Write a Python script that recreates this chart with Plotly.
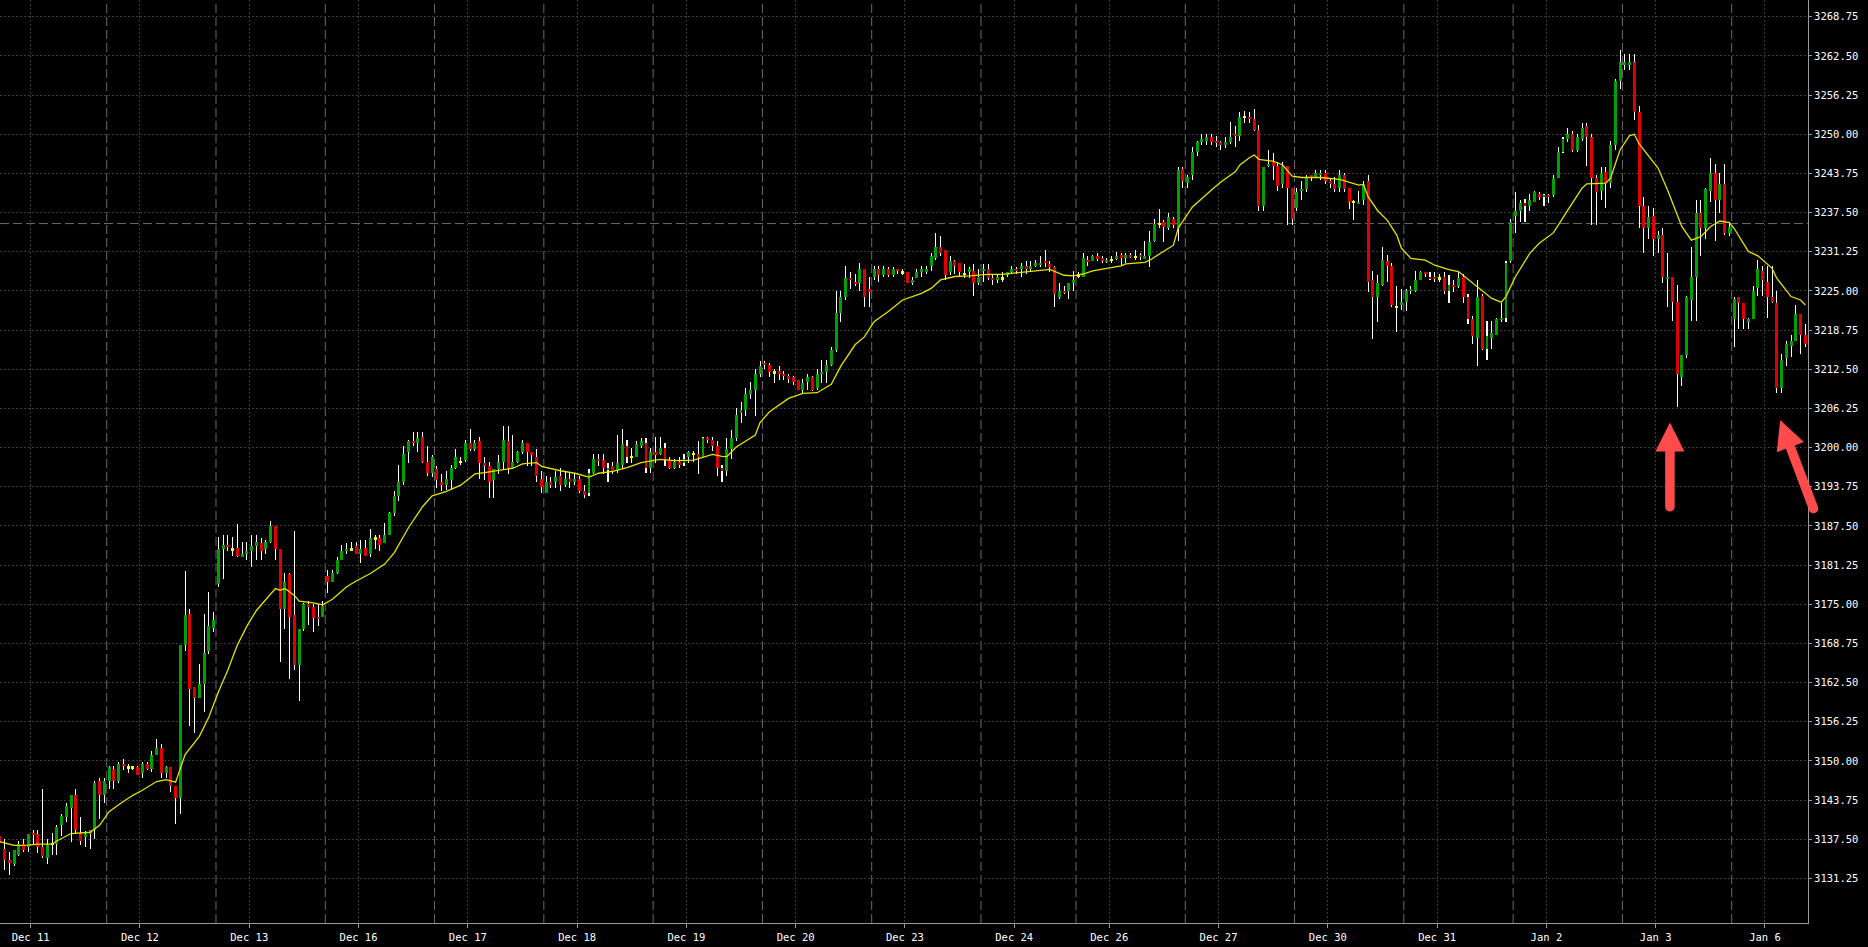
import plotly.graph_objects as go

# ---------------- data (hourly bars) ----------------
day_labels = ["Dec 11", "Dec 12", "Dec 13", "Dec 16", "Dec 17", "Dec 18", "Dec 19", "Dec 20",
              "Dec 23", "Dec 24", "Dec 26", "Dec 27", "Dec 30", "Dec 31", "Jan 2", "Jan 3", "Jan 6"]
day_bars = [23, 23, 23, 23, 23, 23, 23, 23, 23, 20, 23, 23, 23, 23, 23, 23, 16]

opens = [
    3138, 3136, 3134.25, 3133.5, 3135, 3136.75, 3136.25, 3138.5, 3138.25, 3136.25,
    3134.5, 3136.75, 3136.75, 3139.75, 3141, 3142.5, 3144.5, 3138.5, 3138, 3138.25,
    3139, 3146.75, 3144.5, 3146.75, 3148.75, 3146.75, 3149.5, 3149, 3149, 3149,
    3148, 3149.5, 3148.75, 3151, 3152, 3148, 3149, 3146, 3144, 3168.5,
    3173.5, 3161.75, 3160, 3162.25, 3167.5, 3171.25, 3178.25, 3183.75, 3184.5, 3183.75,
    3184, 3182.5, 3183, 3183.5, 3184.25, 3184.75, 3183.75, 3185, 3187.5, 3183.75,
    3174.25, 3179.75, 3173.25, 3165.25, 3171, 3175, 3174.5, 3173, 3173, 3179.5,
    3178.5, 3180, 3182, 3183.5, 3183.75, 3184.25, 3183, 3184, 3183, 3185.5,
    3185.5, 3184.75, 3186, 3189.5, 3192.25, 3194.5, 3199.25, 3201, 3200.75, 3201.75,
    3197.75, 3196, 3196.5, 3194.5, 3194, 3194.75, 3196.75, 3197.75, 3198, 3200.75,
    3199.75, 3201, 3197.5, 3197, 3194.75, 3196.5, 3197.75, 3201, 3196.75, 3197.75,
    3199.25, 3200.75, 3199.25, 3198.5, 3195, 3192.75, 3194.5, 3194.5, 3195.5, 3194,
    3195, 3194.5, 3195, 3193, 3192.75, 3196, 3198.25, 3198, 3196.5, 3197,
    3196.25, 3197.25, 3200.25, 3198.5, 3198.5, 3200.25, 3200.75, 3196.75, 3199.25, 3199,
    3200, 3198, 3196.75, 3197.75, 3197.5, 3198.5, 3199, 3199, 3198.5, 3201.5,
    3201.25, 3200.25, 3196.75, 3196.25, 3199.75, 3201.5, 3205.5, 3206, 3208.5, 3209.25,
    3211.75, 3213.5, 3213.25, 3212, 3212.25, 3211.75, 3211.5, 3211.25, 3210.75, 3209.25,
    3210.5, 3211.25, 3209.5, 3211.75, 3212, 3213.25, 3215.5, 3221.5, 3224, 3227,
    3226.5, 3226.25, 3228.5, 3225.25, 3227.25, 3228.5, 3227.5, 3228.5, 3227.5, 3228.5,
    3228, 3228, 3226.25, 3227, 3228, 3228, 3229, 3230.25, 3232, 3231.5,
    3228, 3229.75, 3229.5, 3227.75, 3228, 3228.25, 3226.25, 3228.25, 3228.5, 3227,
    3226.75, 3227, 3227.5, 3228, 3228.5, 3228.5, 3229, 3228.5, 3229, 3229.25,
    3229.75, 3229.25, 3228.75, 3224, 3225, 3225, 3226.25, 3227.5, 3227.25, 3230,
    3229.75, 3230.5, 3230.25, 3229.75, 3230, 3230.25, 3230.75, 3230.25, 3230.75, 3230.5,
    3230.75, 3230.25, 3230.5, 3233, 3235.75, 3236, 3235, 3236.5, 3235, 3244.5,
    3242.25, 3243.5, 3247.25, 3248.75, 3249, 3249.5, 3249, 3248.75, 3248.25, 3248.75,
    3250, 3249.75, 3252.75, 3252.75, 3252.5, 3250.75, 3238.5, 3245, 3245.5, 3245,
    3242, 3245, 3241.5, 3238.25, 3241, 3241.25, 3243.5, 3243.25, 3243.5, 3243.75,
    3242.5, 3242, 3241.5, 3243.5, 3241.5, 3239.25, 3239, 3239.5, 3242.5, 3226.75,
    3224, 3226, 3229.75, 3229, 3222.5, 3222.75, 3223.25, 3225, 3225, 3226.75,
    3228, 3227.25, 3227.25, 3227, 3227.25, 3225, 3226, 3225.75, 3227.25, 3224,
    3220.5, 3217.5, 3224.25, 3215.75, 3217.5, 3218, 3220.5, 3220.75, 3229.75, 3237,
    3237.75, 3239, 3238.5, 3239.25, 3240.5, 3240, 3240.25, 3240.25, 3243, 3247.25,
    3249.25, 3250, 3247.5, 3249.25, 3251.25, 3249.5, 3243, 3241, 3244, 3242.25,
    3248.25, 3258.5, 3261, 3261, 3261.5, 3253.5, 3238.5, 3235, 3237, 3233.25,
    3234, 3227, 3227.25, 3223.25, 3211.25, 3214.75, 3223.5, 3227.25, 3237.5, 3235,
    3241, 3243.75, 3239.5, 3242, 3234.25, 3220.5, 3224, 3223, 3220, 3220.5,
    3225.5, 3228.25, 3226.5, 3224, 3223, 3209.5, 3214.25, 3216.25, 3217, 3221.25,
    3218,
]

highs = [
    3138.5, 3137.5, 3135.5, 3135.75, 3137.25, 3137.5, 3138.25, 3139, 3139, 3145.5,
    3137.5, 3138.5, 3139.75, 3141.5, 3143.25, 3144.5, 3145.5, 3141, 3138.75, 3139,
    3146.75, 3147.25, 3147.25, 3149.25, 3149.25, 3149.75, 3150.25, 3149.5, 3149.25, 3149.25,
    3149.75, 3149.75, 3151.5, 3153.5, 3152.75, 3149.25, 3149, 3146, 3168.5, 3180.25,
    3174.25, 3161.75, 3165.5, 3173.5, 3177, 3173.75, 3185.75, 3186, 3186, 3185.75,
    3187.75, 3185, 3185, 3186, 3186, 3185.5, 3185.25, 3188.25, 3187.5, 3183.75,
    3180, 3180, 3186.75, 3171, 3175.25, 3175.5, 3175, 3175, 3175.5, 3180.5,
    3180.5, 3182.5, 3184.5, 3184.75, 3185, 3185, 3185.25, 3185.25, 3187, 3186,
    3186, 3188, 3189.75, 3193, 3197.25, 3200.25, 3201.25, 3202.5, 3202.5, 3202.5,
    3200.25, 3198.75, 3197, 3195.75, 3196.25, 3197.25, 3199.75, 3198.5, 3201.25, 3203,
    3201.25, 3201.75, 3198.5, 3197.75, 3196.5, 3198.75, 3203.5, 3203.5, 3202, 3199.5,
    3201.25, 3200.75, 3199.25, 3199.75, 3196.25, 3195.5, 3195.25, 3196.25, 3196.75, 3196.25,
    3196, 3196, 3195.5, 3194, 3196.5, 3199, 3199, 3199, 3197.5, 3197.75,
    3202, 3203, 3201.25, 3200, 3201, 3201.5, 3201.5, 3200, 3201.75, 3201.75,
    3200.75, 3198.5, 3198.25, 3198.5, 3199, 3199.5, 3199.5, 3201, 3201.75, 3201.75,
    3201.75, 3201, 3197.25, 3201.5, 3202.75, 3206.25, 3207.25, 3209.5, 3210.5, 3212.5,
    3213.75, 3213.75, 3213.5, 3212.5, 3213, 3212.25, 3211.75, 3211.5, 3210.75, 3211,
    3211.75, 3211.5, 3212.5, 3214, 3214, 3216, 3225, 3225, 3229, 3228,
    3227.75, 3229.5, 3228.5, 3227.25, 3229, 3229, 3229, 3228.75, 3228.75, 3228.5,
    3228.5, 3228, 3227.25, 3228.5, 3229, 3229, 3231, 3234.25, 3233.75, 3231.5,
    3230.5, 3230, 3229.5, 3229.25, 3228.75, 3229.25, 3228.5, 3229.25, 3229.25, 3227.75,
    3227.75, 3228, 3228, 3229, 3228.75, 3229.5, 3229.75, 3229.75, 3230, 3230.5,
    3231.5, 3229.75, 3229, 3226.25, 3225.75, 3226.25, 3228.25, 3228, 3231, 3230.5,
    3230.75, 3231, 3230.5, 3230.25, 3230.5, 3231.25, 3231, 3231, 3231, 3231.5,
    3231, 3233, 3234.5, 3236.5, 3238, 3236.25, 3237.5, 3236.75, 3244.75, 3244.75,
    3243.5, 3248, 3249, 3250, 3250, 3250, 3249.75, 3249, 3249.5, 3252,
    3251.25, 3253.5, 3253.75, 3253.5, 3254, 3251.5, 3244.75, 3247.5, 3247, 3245.5,
    3245.5, 3245, 3241.5, 3241.5, 3242.5, 3243.5, 3243.5, 3244.25, 3244.25, 3244.25,
    3243, 3243.25, 3244.25, 3243.75, 3241.5, 3239.5, 3241, 3242.5, 3243.5, 3228.25,
    3227.5, 3232, 3230.75, 3229.5, 3225.75, 3225.25, 3225.25, 3225.75, 3228.25, 3228.25,
    3228, 3228, 3228, 3227.75, 3228, 3227.5, 3226.75, 3228, 3227.75, 3224.5,
    3221, 3226.75, 3224.5, 3220.25, 3220.25, 3220.75, 3223, 3229.75, 3236.5, 3240.75,
    3239.5, 3239.75, 3240.5, 3241, 3240.75, 3240.5, 3240.5, 3243.5, 3248, 3249.5,
    3251, 3250.5, 3250, 3251.75, 3251.75, 3250, 3243.5, 3244.75, 3244.75, 3249,
    3258.75, 3263.5, 3262.75, 3262.75, 3262.75, 3254.5, 3240, 3238.5, 3238.25, 3234.5,
    3235, 3231, 3227.25, 3226, 3214.75, 3224.25, 3232, 3239.5, 3239.5, 3241.5,
    3246.25, 3245.25, 3243.75, 3245.25, 3236, 3224, 3224, 3223, 3220.75, 3225.75,
    3230, 3229, 3229, 3229, 3225, 3215, 3217, 3218, 3222.75, 3221.25,
    3219.75,
]

lows = [
    3137, 3132.5, 3131.75, 3133.25, 3134.75, 3135.5, 3135.5, 3136.75, 3135.25, 3134.5,
    3133.5, 3135, 3135, 3138, 3140.25, 3137, 3138.25, 3136.5, 3136.25, 3136,
    3137.5, 3140.75, 3143.25, 3145.5, 3145.5, 3146.5, 3148.5, 3148, 3148.5, 3147.75,
    3147.25, 3148.5, 3148.25, 3151, 3147.25, 3147.25, 3145, 3140, 3141.5, 3167.5,
    3155.5, 3154.5, 3160, 3157.75, 3167, 3170.5, 3177.75, 3179, 3183.5, 3182.75,
    3182.5, 3182.5, 3182, 3181, 3182, 3182, 3183, 3184.75, 3182, 3165.75,
    3171, 3163, 3164.5, 3159.5, 3170.75, 3171.75, 3170.5, 3171.5, 3173, 3176.75,
    3178.5, 3179.75, 3182, 3183, 3183.5, 3183, 3181.5, 3182.75, 3182.5, 3183.75,
    3183.5, 3184.75, 3186, 3189, 3191.5, 3194, 3197.5, 3200.25, 3199.25, 3197.5,
    3195.5, 3195.25, 3193.5, 3193, 3193.25, 3193.25, 3196.5, 3197.25, 3197.75, 3199.5,
    3199.5, 3195, 3194.75, 3192, 3192, 3195.75, 3196.5, 3195.75, 3196.5, 3197.5,
    3199, 3197, 3197, 3194.5, 3192.75, 3192.75, 3193.5, 3193.5, 3193, 3193.75,
    3193.5, 3194, 3192.75, 3192, 3192.25, 3195.75, 3197, 3195.75, 3194.5, 3195.75,
    3196, 3196.5, 3197.5, 3197.5, 3198.5, 3200, 3196, 3196, 3197.5, 3198.75,
    3197, 3196.5, 3196.5, 3196.75, 3197, 3197.5, 3197.75, 3195.75, 3198.5, 3200.75,
    3199.5, 3195.5, 3194.5, 3195.5, 3198.25, 3201, 3204, 3205, 3207.75, 3205,
    3211.25, 3212.5, 3211.25, 3210.25, 3210.75, 3210.75, 3210.25, 3210, 3209.25, 3208.5,
    3209.25, 3209, 3209.25, 3210.25, 3210.25, 3213, 3215.25, 3220, 3223.5, 3225.25,
    3225.75, 3225, 3222.5, 3222.5, 3226.75, 3226.5, 3227.25, 3227.25, 3227.25, 3227.75,
    3227.5, 3226.25, 3226, 3227, 3227.25, 3227.75, 3228.25, 3230, 3230.5, 3226.75,
    3227.5, 3227.75, 3227.25, 3227, 3227, 3224.25, 3226, 3226.5, 3226.75, 3226,
    3226.25, 3226.5, 3227.25, 3227.75, 3227.75, 3227.25, 3227.75, 3228, 3228.75, 3228.75,
    3228.75, 3228, 3222.5, 3223.75, 3224.5, 3223.75, 3225, 3227, 3227.25, 3229,
    3229.75, 3229.75, 3229.5, 3229.5, 3229.5, 3230, 3229, 3229.5, 3230.25, 3230,
    3230, 3230.25, 3228.75, 3232.75, 3235, 3232.75, 3234.75, 3235, 3233, 3241.5,
    3241.5, 3242.75, 3246.5, 3248.25, 3248.25, 3248.25, 3248, 3247.5, 3247.75, 3248.5,
    3248, 3249, 3251.75, 3251.75, 3250.5, 3237.75, 3237.75, 3244.75, 3242.75, 3241,
    3241.5, 3235.5, 3235.5, 3237.75, 3239.5, 3240.75, 3242.5, 3243, 3242.75, 3242,
    3241.5, 3240.75, 3240.75, 3240.75, 3238, 3236.25, 3239, 3238.75, 3224.75, 3217.25,
    3220, 3225.75, 3226.5, 3222.5, 3218.5, 3222, 3221.75, 3224.5, 3224.75, 3226.75,
    3227.25, 3226.75, 3226.5, 3226.5, 3224.5, 3223, 3224.75, 3225.5, 3223, 3219.75,
    3216.5, 3213, 3215.5, 3214, 3215.75, 3218, 3220, 3220, 3229.5, 3234.25,
    3236, 3236, 3237.75, 3239.25, 3239.5, 3238.5, 3239, 3240, 3243, 3247,
    3248.75, 3247.25, 3247.25, 3249, 3245, 3235.5, 3235.5, 3239.5, 3238.25, 3241.5,
    3247.5, 3257.25, 3260.25, 3260.25, 3252.25, 3235, 3231, 3233.25, 3230.5, 3231,
    3226.25, 3222.5, 3220.25, 3206.5, 3209.75, 3214.25, 3220.25, 3220.25, 3230.5, 3233.25,
    3239.25, 3233, 3237.5, 3234, 3233.75, 3216, 3219, 3219, 3219, 3220.5,
    3224.25, 3224.25, 3220.75, 3223, 3208.75, 3208.75, 3213, 3214.5, 3217, 3215,
    3216,
]

closes = [
    3137.25, 3134.25, 3133.75, 3135.75, 3136.75, 3135.75, 3138.25, 3138.25, 3136.25, 3134.75,
    3136.5, 3136.75, 3139.5, 3141.25, 3142.75, 3144.5, 3139, 3137.25, 3138.25, 3139,
    3146.5, 3144.5, 3146.75, 3149, 3146.75, 3149.5, 3149.25, 3149, 3149, 3147.75,
    3149.5, 3148.75, 3151, 3152, 3148, 3149, 3146, 3144, 3168.5, 3173.25,
    3161.5, 3160, 3162.25, 3167.25, 3171.5, 3172.5, 3183.75, 3184.5, 3184.25, 3183.75,
    3182.75, 3183, 3183.5, 3184.25, 3185, 3183.5, 3185, 3187.5, 3183.75, 3174.25,
    3178.5, 3173, 3165.25, 3171, 3175, 3174.5, 3172.75, 3172.75, 3174.75, 3178.5,
    3180, 3182, 3183.5, 3183.75, 3183.75, 3183, 3183.75, 3182.75, 3185.5, 3185.5,
    3184.5, 3186, 3189.5, 3192.25, 3194.5, 3199, 3201, 3200.75, 3201.5, 3197.75,
    3196, 3198.5, 3194.75, 3194, 3195, 3196.75, 3198.5, 3197.75, 3200.75, 3199.75,
    3200.75, 3197.5, 3197, 3194.5, 3196.5, 3197.75, 3201.25, 3196.75, 3197.75, 3199.25,
    3200.75, 3199.25, 3198.75, 3195.5, 3193.75, 3194.5, 3194, 3195.25, 3194, 3195,
    3194.5, 3195, 3193, 3192.5, 3196, 3198.25, 3198, 3196.75, 3196.75, 3196.25,
    3197.5, 3200.5, 3198.5, 3198.5, 3200.5, 3201, 3196.75, 3199.25, 3198.75, 3200,
    3198, 3196.75, 3197.75, 3197.25, 3198.25, 3199.25, 3199, 3198.5, 3201.5, 3201.25,
    3200.25, 3196.75, 3196.25, 3199.75, 3201.5, 3205.25, 3206, 3208.5, 3209.25, 3211.75,
    3213, 3213.25, 3212, 3212, 3211.75, 3211.5, 3211, 3210.5, 3209.25, 3210.25,
    3211.25, 3209.25, 3211.75, 3212, 3213.25, 3215.5, 3221.5, 3224, 3227, 3226.75,
    3226.25, 3228.5, 3224, 3224.75, 3228.5, 3227.5, 3228.5, 3227.5, 3228.5, 3228.25,
    3228, 3226.25, 3226.75, 3228, 3228.5, 3228.5, 3230.5, 3232, 3231, 3227.5,
    3229.75, 3229, 3228, 3227.75, 3228.5, 3226.25, 3227.25, 3228.5, 3227, 3226.75,
    3227.25, 3227, 3228, 3228.5, 3228.25, 3229, 3228.5, 3229, 3229.5, 3229.5,
    3229.5, 3228.75, 3224.5, 3225, 3224.75, 3226.25, 3226.75, 3227.5, 3230.25, 3229.75,
    3230.5, 3230.25, 3229.75, 3230, 3230, 3230.5, 3230.25, 3230.75, 3230.5, 3230.5,
    3230.5, 3230.5, 3232.75, 3235.75, 3235.75, 3235.25, 3236.75, 3235.5, 3244.25, 3242.5,
    3243.25, 3247.25, 3248.75, 3249.25, 3249.5, 3248.75, 3248.75, 3248.25, 3248.75, 3249.5,
    3249.75, 3252.75, 3252.75, 3252.5, 3250.75, 3238.5, 3244.75, 3245.25, 3245, 3241.75,
    3245, 3241.5, 3236.5, 3240.75, 3241.25, 3243.25, 3243.25, 3243.75, 3243.75, 3242.5,
    3242, 3241.25, 3243.5, 3241.25, 3239.25, 3239.25, 3239.25, 3242, 3226.5, 3224,
    3226.25, 3230, 3229, 3222.75, 3222.5, 3223.25, 3225, 3225.25, 3226.75, 3228,
    3227.75, 3227, 3227, 3227, 3225, 3226, 3225.75, 3227, 3224, 3220.5,
    3217.75, 3224, 3215.75, 3217.75, 3218.25, 3220.5, 3220.75, 3229.5, 3236, 3237.75,
    3239, 3238.5, 3239.5, 3240.75, 3240, 3240.25, 3240, 3243, 3247.25, 3249.25,
    3250, 3247.5, 3249.5, 3251, 3249.5, 3243, 3240.75, 3243.75, 3242.25, 3248.25,
    3258.5, 3261.5, 3261.5, 3261.5, 3253.5, 3238.5, 3235, 3236.75, 3233.25, 3234,
    3227.25, 3227.25, 3223.25, 3211.75, 3214.75, 3224, 3227.25, 3237.5, 3235, 3241.25,
    3243.75, 3239.5, 3242, 3234.25, 3235.25, 3223.75, 3223, 3220.5, 3220.5, 3225,
    3228.5, 3226.75, 3224, 3223.25, 3209.5, 3214, 3216.5, 3217, 3221.25, 3218,
    3216.5,
]

# moving average at these bar positions
ma_index = [0, 3, 6, 8, 11, 12, 15, 19, 21, 23, 26, 28, 30, 33, 35, 37, 38, 39, 42, 44,
            46, 48, 50, 52, 54, 56, 58, 59, 60, 62, 63, 66, 68, 70, 73, 75, 78, 81, 83, 86,
            89, 91, 94, 97, 100, 102, 105, 108, 110, 113, 114, 118, 121, 124, 126, 129, 132, 135, 139, 142,
            146, 150, 152, 153, 155, 159, 160, 162, 166, 169, 172, 175, 177, 180, 182, 184, 187, 190, 194, 196,
            198, 201, 204, 208, 211, 215, 218, 221, 224, 226, 228, 230, 236, 237, 241, 242, 247, 248, 251, 255,
            257, 260, 261, 263, 264, 265, 268, 270, 272, 274, 278, 282, 286, 287, 288, 290, 292, 294, 295, 297,
            300, 302, 305, 307, 310, 314, 316, 317, 319, 322, 324, 327, 330, 333, 334, 338, 339, 341, 343, 344,
            345, 349, 351, 354, 356, 358, 360, 362, 364, 365, 368, 370, 373, 374, 377, 379, 380]
ma_values = [3137.1, 3136.5, 3136.55, 3136.7, 3136.7, 3137.2, 3138.4, 3138.6, 3139.7, 3141.9,
             3143.5, 3144.5, 3145.3, 3146.7, 3147.0, 3146.6, 3148.8, 3151.0, 3153.9, 3157.0,
             3161.0, 3164.5, 3168.5, 3171.5, 3174.0, 3175.8, 3177.5, 3177.2, 3177.5, 3176.4,
             3175.5, 3175.2, 3174.9, 3175.8, 3177.8, 3178.7, 3179.9, 3181.4, 3183.2, 3187.2,
             3190.6, 3192.3, 3193.0, 3194.0, 3195.8, 3196.0, 3196.4, 3196.7, 3197.4, 3197.6,
             3197.0, 3196.3, 3195.9, 3195.3, 3195.9, 3196.2, 3196.8, 3197.6, 3198.1, 3197.9,
             3198.0, 3198.9, 3198.6, 3198.55, 3200.1, 3202.0, 3204.0, 3205.7, 3207.85, 3208.65,
             3208.75, 3210.1, 3213.0, 3216.4, 3217.7, 3220.1, 3221.7, 3223.55, 3224.6, 3225.4,
             3226.75, 3227.3, 3227.4, 3227.65, 3227.65, 3227.9, 3228.2, 3228.45, 3227.5, 3227.4,
             3227.7, 3228.2, 3229.0, 3229.3, 3229.55, 3229.9, 3232.3, 3235.0, 3238.4, 3241.1,
             3242.4, 3244.0, 3245.1, 3246.25, 3246.7, 3246.0, 3245.7, 3245.1, 3243.3, 3243.1,
             3243.1, 3242.8, 3241.9, 3242.0, 3240.0, 3237.8, 3236.3, 3233.9, 3231.8, 3230.2,
             3229.9, 3229.1, 3228.4, 3228.1, 3226.2, 3223.8, 3223.2, 3224.1, 3227.3, 3231.0,
             3232.6, 3234.3, 3237.9, 3241.4, 3242.1, 3242.2, 3243.0, 3247.5, 3249.8, 3250.0,
             3248.5, 3244.6, 3241.1, 3235.3, 3233.1, 3233.65, 3235.25, 3236.15, 3235.9, 3235.0,
             3231.3, 3230.6, 3228.6, 3227.0, 3224.1, 3223.55, 3222.75]

price_labels = ["3131.25", "3137.50", "3143.75", "3150.00", "3156.25", "3162.50", "3168.75",
                "3175.00", "3181.25", "3187.50", "3193.75", "3200.00", "3206.25", "3212.50",
                "3218.75", "3225.00", "3231.25", "3237.50", "3243.75", "3250.00", "3256.25",
                "3262.50", "3268.75"]
level_price = 3235.75
arrow_targets = [(351.5, 3204.0), (374.7, 3204.4)]   # (bar, price) the red arrows point at

# ---------------- styling ----------------
W, H = 1868, 947
M_L, M_R, M_T, M_B = 0, 60, 0, 24
X_RANGE = [0.042, 380.56]
Y_RANGE = [3124.12, 3271.43]
BG = "#000000"
GRID = "#3a3a3a"
SEP = "#6a6a6a"
AXIS = "#9a9a9a"
UP, DOWN, DOJI = "#00a000", "#e00000", "#ffff00"
MA_COL = "#e2e200"
ARROW = "#ff4b4b"
FONT = dict(family="DejaVu Sans Mono, monospace", size=10.5, color="#ffffff")

n = len(opens)
idx = list(range(n))

# day positions
starts = []
s = 0
for b in day_bars:
    starts.append(s)
    s += b
label_pos = [st + 6.5 for st in starts]
sep_pos = [st - 0.5 for st in starts[1:]]

# bodies
DOJI_H = 0.3
body_base, body_h, body_col = [], [], []
for o, c in zip(opens, closes):
    if c == o:
        body_base.append(o - DOJI_H / 2)
        body_h.append(DOJI_H)
        body_col.append(DOJI)
    else:
        body_base.append(min(o, c))
        body_h.append(abs(c - o))
        body_col.append(UP if c > o else DOWN)

fig = go.Figure()
# wicks (drawn first, so bodies cover them)
fig.add_trace(go.Bar(
    x=idx, y=[h - l for h, l in zip(highs, lows)], base=lows, width=0.22,
    marker=dict(color="rgba(255,255,255,0.999)", line=dict(width=0)),
    hoverinfo="skip", showlegend=False))
# bodies
fig.add_trace(go.Bar(
    x=idx, y=body_h, base=body_base, width=0.62,
    marker=dict(color=body_col, opacity=0.999, line=dict(width=0)),
    hoverinfo="skip", showlegend=False))
# moving average
fig.add_trace(go.Scatter(
    x=ma_index, y=ma_values, mode="lines", line=dict(color=MA_COL, width=1.3),
    hoverinfo="skip", showlegend=False))

shapes = []
for p in sep_pos:
    shapes.append(dict(type="line", xref="x", yref="paper", x0=p, x1=p, y0=0, y1=1,
                       line=dict(color=SEP, width=1, dash="9px,4px"), layer="below"))
shapes.append(dict(type="line", xref="paper", yref="y", x0=0, x1=1, y0=level_price, y1=level_price,
                   line=dict(color=SEP, width=1, dash="9px,4px"), layer="below"))


def arrow_path(length, dx, dy, head_len=29.0, head_half=14.5, shaft_half=4.75):
    # dx, dy: unit vector from tip towards tail, pixel units with y pointing up
    px, py = -dy, dx
    r = shaft_half

    def P(u, v):
        return f"{u * dx + v * px:.2f},{u * dy + v * py:.2f}"
    k = 4.0 / 3.0 * r
    return (f"M {P(0, 0)} L {P(head_len, head_half)} L {P(head_len, r)} "
            f"L {P(length - r, r)} C {P(length - r + k, r)} {P(length - r + k, -r)} {P(length - r, -r)} "
            f"L {P(head_len, -r)} L {P(head_len, -head_half)} Z")


arrow_dirs = [(0.0, -1.0, 89.0), (35.0 / 99.4, -93.0 / 99.4, 99.4)]
for (bx, by), (dx, dy, ln) in zip(arrow_targets, arrow_dirs):
    xa = (bx - X_RANGE[0]) / (X_RANGE[1] - X_RANGE[0])
    ya = (by - Y_RANGE[0]) / (Y_RANGE[1] - Y_RANGE[0])
    shapes.append(dict(type="path", xref="paper", yref="paper", xsizemode="pixel", ysizemode="pixel",
                       xanchor=xa, yanchor=ya, path=arrow_path(ln, dx, dy),
                       fillcolor=ARROW, line=dict(width=0), layer="above"))

fig.update_layout(
    width=W, height=H, margin=dict(l=M_L, r=M_R, t=M_T, b=M_B, pad=0),
    paper_bgcolor=BG, plot_bgcolor=BG, barmode="overlay", bargap=0,
    showlegend=False, hovermode=False, font=FONT, shapes=shapes,
    xaxis=dict(range=X_RANGE, tickmode="array", tickvals=label_pos, ticktext=day_labels,
               showgrid=True, gridcolor=GRID, griddash="2px,2px", gridwidth=1,
               showline=True, linecolor=AXIS, linewidth=1, ticks="outside", ticklen=4,
               tickcolor=AXIS, tickfont=FONT, zeroline=False, fixedrange=True),
    yaxis=dict(range=Y_RANGE, side="right", tickmode="array",
               tickvals=[float(t) for t in price_labels], ticktext=price_labels,
               showgrid=True, gridcolor=GRID, griddash="2px,2px", gridwidth=1,
               showline=True, linecolor=AXIS, linewidth=1, mirror=True, ticks="outside", ticklen=3,
               tickcolor=AXIS, tickfont=FONT, zeroline=False, fixedrange=True),
)

fig.write_html("out.html", config={"displayModeBar": False},
               post_script="document.body.style.margin='0';document.body.style.overflow='hidden';")
